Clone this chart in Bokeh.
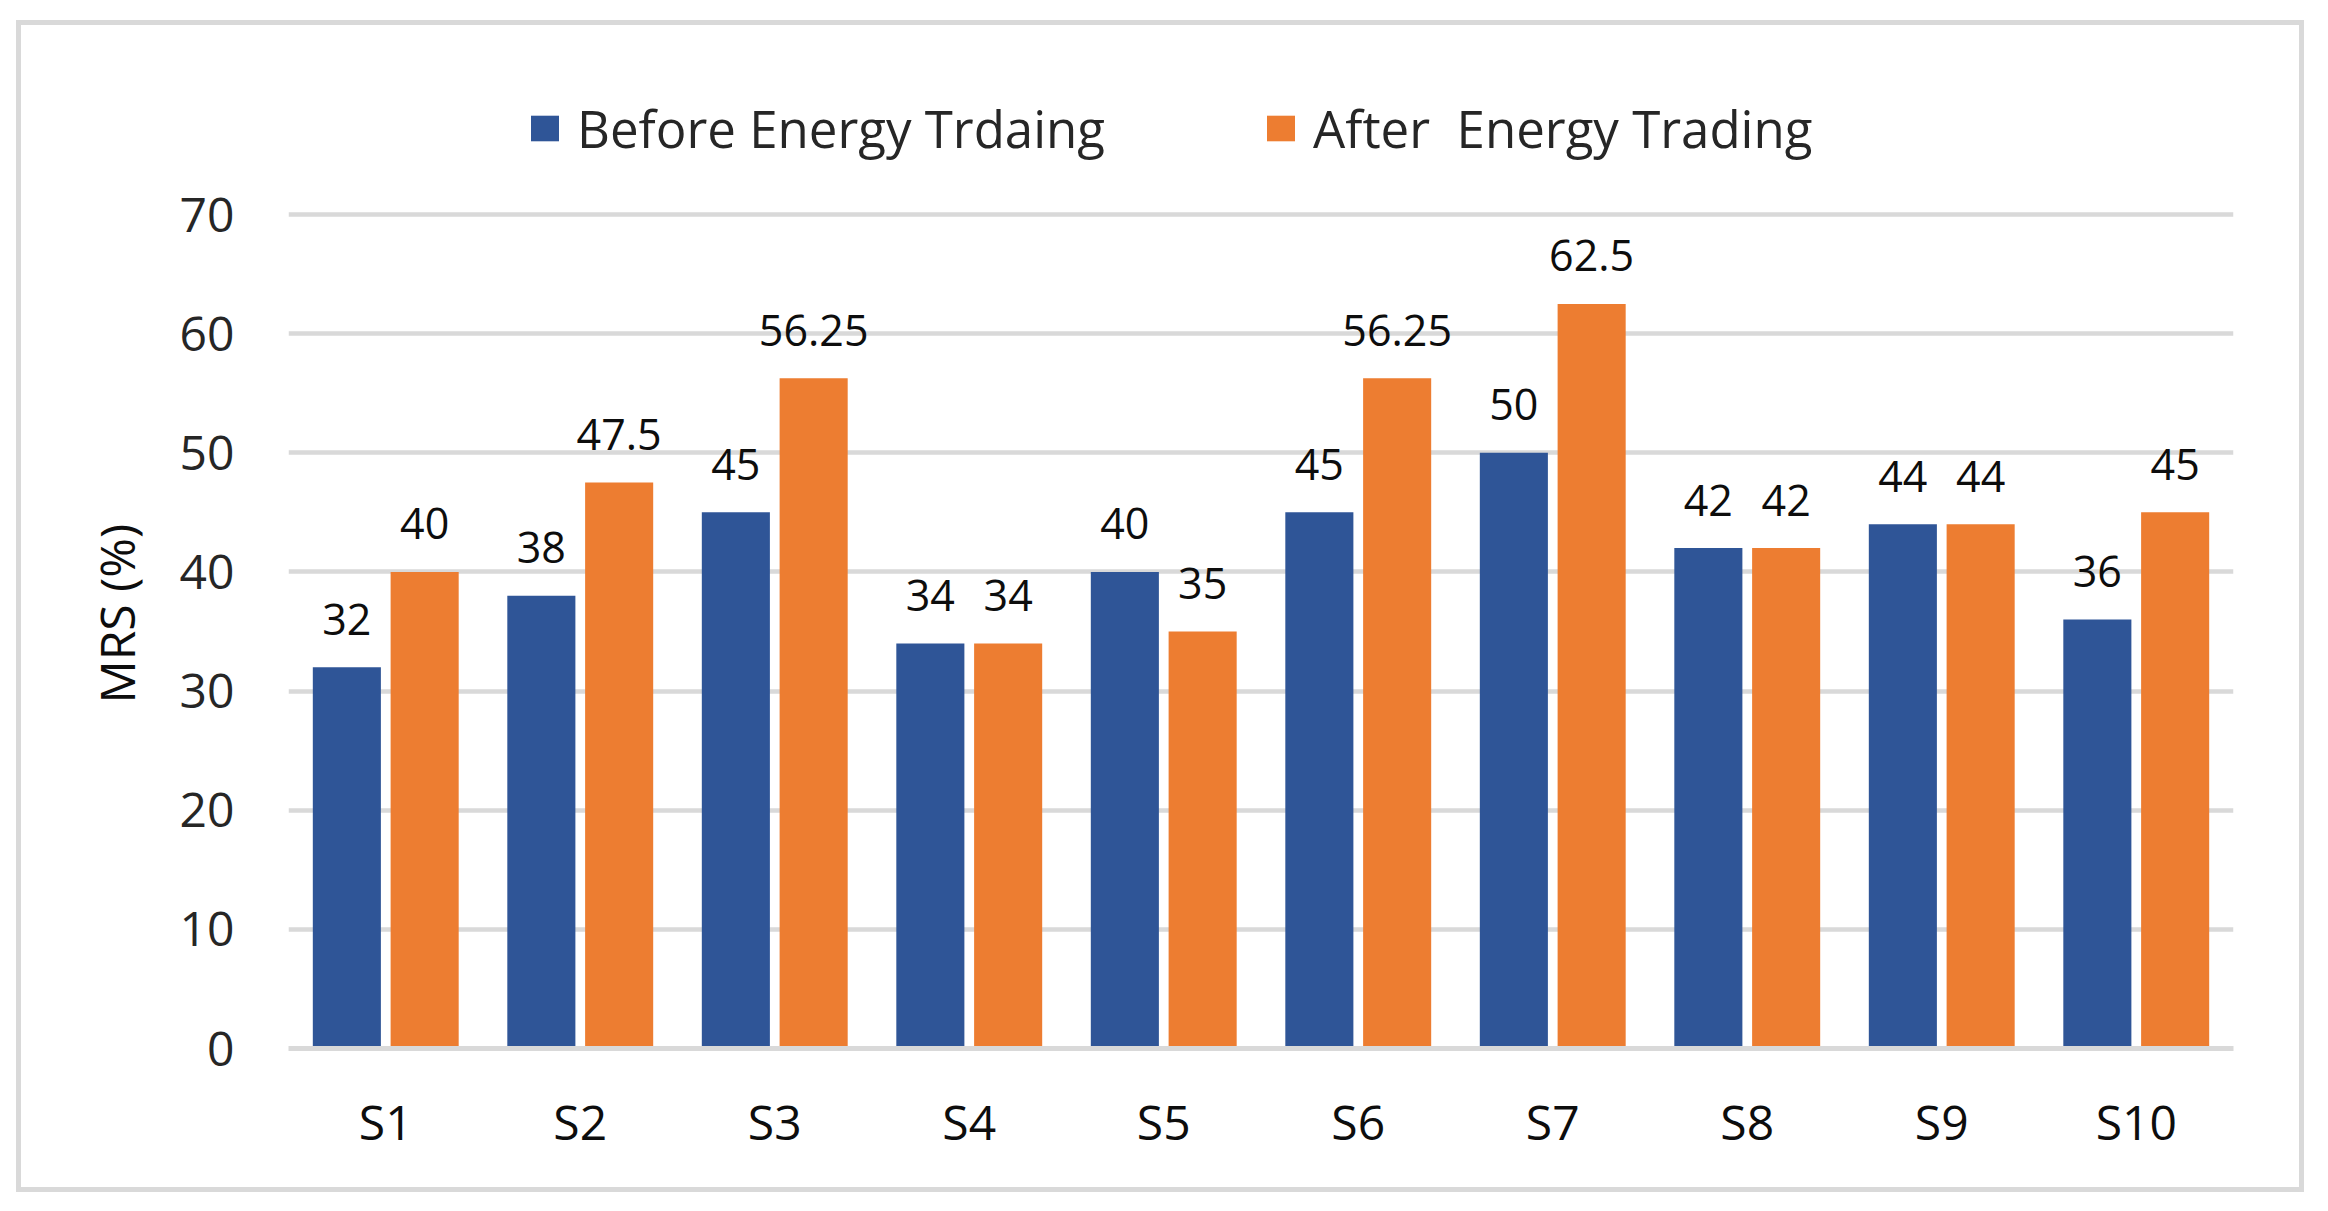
from bokeh.plotting import figure
from bokeh.models import ColumnDataSource, FactorRange, Range1d, Legend, LegendItem, FixedTicker, Title
from bokeh.transform import dodge
from bokeh.core.properties import value
from bokeh.embed import file_html
from bokeh.resources import INLINE

categories = ["S1", "S2", "S3", "S4", "S5", "S6", "S7", "S8", "S9", "S10"]
before = [32, 38, 45, 34, 40, 45, 50, 42, 44, 36]
after = [40, 47.5, 56.25, 34, 35, 56.25, 62.5, 42, 44, 45]
before_labels = ["32", "38", "45", "34", "40", "45", "50", "42", "44", "36"]
after_labels = ["40", "47.5", "56.25", "34", "35", "56.25", "62.5", "42", "44", "45"]
y_ticks = [0, 10, 20, 30, 40, 50, 60, 70]
series_names = ["Before Energy Trdaing", "After  Energy Trading"]
y_title = "MRS (%)"

BLUE = "#2F5597"
ORANGE = "#ED7D31"
GRID = "#D9D9D9"
FONT = "Open Sans"

source = ColumnDataSource(dict(cat=categories, before=before, after=after,
                               bl=before_labels, al=after_labels))

p = figure(x_range=FactorRange(*categories, range_padding=0), y_range=Range1d(0, 80.83),
           width=2288, height=1172, output_backend="svg", toolbar_location=None,
           min_border_left=267, min_border_right=76, min_border_top=60, min_border_bottom=149,
           styles={"border": "5px solid #D9D9D9", "position": "relative",
                   "left": "16px", "top": "20px"})
p.outline_line_color = None
p.background_fill_color = "white"
p.border_fill_color = "white"

rb = p.vbar(x=dodge("cat", -0.2, range=p.x_range), top="before", width=0.35, source=source,
            fill_color=BLUE, line_color=None)
ra = p.vbar(x=dodge("cat", 0.2, range=p.x_range), top="after", width=0.35, source=source,
            fill_color=ORANGE, line_color=None)

p.text(x=dodge("cat", -0.2, range=p.x_range), y="before", text="bl", source=source,
       text_align="center", text_baseline="alphabetic", y_offset=-48,
       text_font=value(FONT), text_font_size="43px", text_color="#0D0D0D")
p.text(x=dodge("cat", 0.2, range=p.x_range), y="after", text="al", source=source,
       text_align="center", text_baseline="alphabetic", y_offset=-48,
       text_font=value(FONT), text_font_size="43px", text_color="#0D0D0D")

p.xgrid.grid_line_color = None
p.ygrid.grid_line_color = GRID
p.ygrid.grid_line_width = 4.5

p.yaxis.ticker = FixedTicker(ticks=y_ticks)
p.yaxis.axis_line_color = None
p.yaxis.major_tick_line_color = None
p.yaxis.minor_tick_line_color = None
p.yaxis.major_tick_out = 0
p.yaxis.major_tick_in = 0
p.yaxis.major_label_standoff = 54
p.yaxis.major_label_text_font = FONT
p.yaxis.major_label_text_font_size = "48px"
p.yaxis.major_label_text_color = "#262626"

ylab = Title(text=y_title, align="left", vertical_align="bottom", offset=345, standoff=56,
             text_font=FONT, text_font_size="48px", text_font_style="normal",
             text_color="#0D0D0D")
p.add_layout(ylab, "left")

p.xaxis.axis_line_color = GRID
p.xaxis.axis_line_width = 5
p.xaxis.major_tick_line_color = None
p.xaxis.minor_tick_line_color = None
p.xaxis.major_tick_out = 0
p.xaxis.major_tick_in = 0
p.xaxis.major_label_standoff = 40
p.xaxis.major_label_text_font = FONT
p.xaxis.major_label_text_font_size = "48px"
p.xaxis.major_label_text_color = "#0D0D0D"

legend = Legend(items=[LegendItem(label=series_names[0], renderers=[rb]),
                       LegendItem(label=series_names[1], renderers=[ra])],
                orientation="horizontal", location=(239, 885),
                glyph_width=35, glyph_height=32, label_standoff=15, spacing=146,
                label_width=540, padding=0, margin=0,
                border_line_color=None, background_fill_alpha=0,
                label_text_font=FONT, label_text_font_size="51px", label_text_color="#262626")
p.add_layout(legend)

open("out.html", "w").write(file_html(p, INLINE))
